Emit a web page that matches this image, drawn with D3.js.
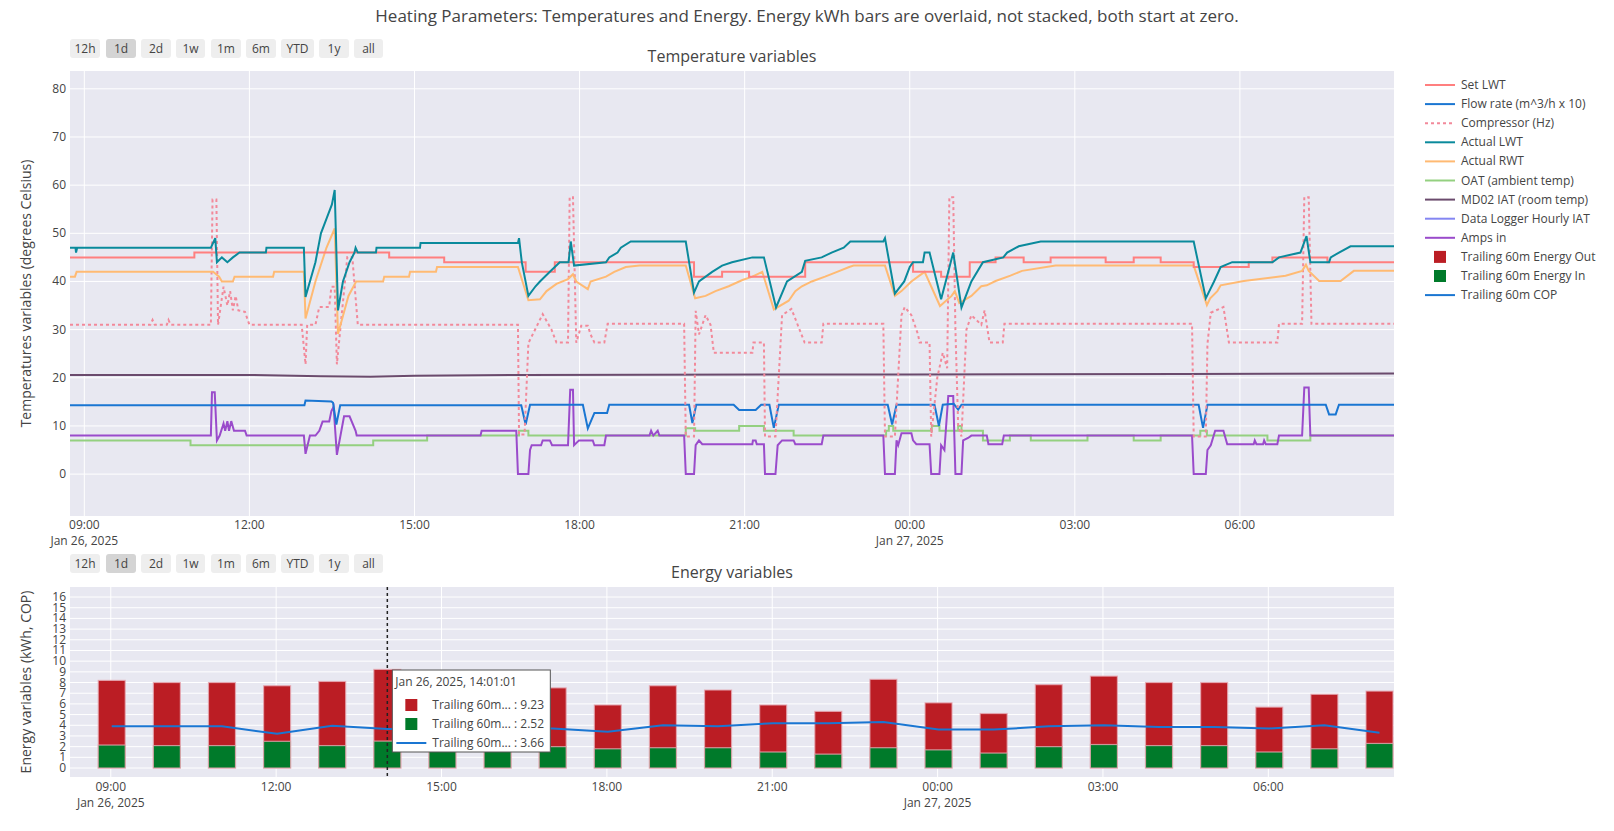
<!DOCTYPE html>
<html><head><meta charset="utf-8">
<script src="https://cdn.jsdelivr.net/npm/d3@7"></script>
<style>body{margin:0;background:#fff}text{font-family:"Open Sans",sans-serif;fill:#444}</style>
</head><body><svg width="1614" height="831"></svg>
<script>
// hours are counted from Jan 26, 2025 00:00
const setLWT = [[8.74,45],[11.0,46],[14.54,45],[15.54,44],[17.02,42],[17.55,44],[20.08,41],[20.59,42],[21.08,41],[22.1,44],[24.06,42],[24.57,41],[25.09,44],[25.56,45],[26.07,44],[26.56,45],[27.56,44],[28.07,45],[28.56,44],[29.16,43],[30.16,44],[30.59,45],[31.59,44],[32.8,44]];
const flowRate = [[8.74,14.3],[13.0,14.3],[13.02,15.3],[13.49,15.1],[13.52,14.8],[13.58,10.3],[13.65,14.3],[16.94,14.3],[17.02,10.3],[17.1,14.4],[18.06,14.4],[18.15,9.5],[18.27,12.7],[18.5,12.7],[18.54,14.4],[19.99,14.4],[20.05,10.6],[20.12,14.4],[20.8,14.4],[20.9,13.3],[21.2,13.3],[21.3,14.4],[21.45,14.4],[21.53,9.6],[21.62,14.4],[23.6,14.4],[23.68,10.3],[23.76,14.4],[24.45,14.4],[24.53,10],[24.6,14.4],[24.8,14.6],[24.88,13.4],[24.94,14.4],[29.25,14.4],[29.33,9.6],[29.41,14.4],[31.56,14.4],[31.62,12.4],[31.74,12.4],[31.8,14.4],[32.8,14.4]];
const compressor = [[8.74,31],[10.2,31],[10.24,32],[10.28,31],[10.5,31],[10.53,32],[10.57,31],[11.3,31],[11.33,57],[11.4,57],[11.43,31],[11.53,38.9],[11.6,35],[11.65,38],[11.7,34],[11.75,37],[11.8,34],[11.92,33.7],[12.0,31],[12.95,31],[13.02,22.8],[13.05,31],[13.2,31],[13.27,34.7],[13.45,34.7],[13.49,38.9],[13.55,38.9],[13.59,22.8],[13.78,45.1],[13.87,45.1],[13.97,31],[16.88,31],[16.9,8.2],[17.0,8.2],[17.07,27.2],[17.33,33.2],[17.49,30],[17.58,27.3],[17.79,27.3],[17.82,57.5],[17.88,57.5],[17.94,27.3],[18.03,30.8],[18.15,30.8],[18.2,29],[18.27,27.3],[18.45,27.3],[18.51,31.2],[19.9,31.2],[19.93,7.8],[20.08,7.8],[20.11,33.9],[20.17,29],[20.29,33],[20.38,31],[20.44,25.2],[21.14,25.2],[21.16,27.3],[21.35,27.3],[21.37,7.8],[21.56,7.8],[21.68,33],[21.85,34.3],[22.09,27.3],[22.4,27.3],[22.43,31.2],[23.52,31.2],[23.55,7.8],[23.73,7.8],[23.85,33],[23.91,34.7],[24.03,33],[24.15,29],[24.18,27.3],[24.36,27.3],[24.39,7.8],[24.5,20],[24.6,25.2],[24.68,22],[24.72,57.5],[24.79,57.5],[24.83,30],[24.88,10],[24.94,7.8],[25.03,30],[25.12,33],[25.3,31],[25.36,34],[25.45,27.3],[25.69,27.3],[25.72,31.2],[29.13,31.2],[29.16,7.8],[29.38,7.8],[29.41,27],[29.47,33.5],[29.7,34.7],[29.8,27.3],[30.68,27.3],[30.71,31.2],[31.13,31.2],[31.17,57.5],[31.25,57.5],[31.3,31.2],[32.8,31.2]];
const actualLWT = [[8.74,47],[8.84,47],[8.85,46],[8.87,47],[11.3,47],[11.38,49],[11.41,44],[11.5,45],[11.6,44],[11.7,45],[11.82,46],[12.3,46],[12.31,47],[12.99,47],[13.02,36.8],[13.1,40],[13.2,44],[13.3,50],[13.4,53],[13.5,56],[13.55,59],[13.61,34],[13.7,40],[13.82,44],[13.91,46],[13.93,47],[13.97,46],[14.3,46],[14.31,47],[15.1,47],[15.11,48],[16.88,48],[16.9,49],[16.95,44],[17.07,37],[17.2,39],[17.28,40],[17.46,42],[17.64,44],[17.8,44],[17.84,48.3],[17.9,43.3],[18.48,44],[18.54,45],[18.69,46],[18.75,47],[18.93,48.3],[19.93,48.3],[20.08,37.7],[20.17,40],[20.41,42],[20.59,43.3],[20.77,44],[21.14,45],[21.35,45],[21.57,34.6],[21.77,40],[22.04,42],[22.1,44.3],[22.4,45],[22.58,46],[22.8,47],[22.92,48.3],[23.52,48.3],[23.55,49],[23.73,37.5],[23.9,40],[24.0,43],[24.06,44],[24.24,44],[24.27,46],[24.36,46],[24.57,36.3],[24.7,42],[24.79,46],[24.94,34.6],[25.12,40],[25.33,44],[25.7,45],[25.77,46],[25.98,47.3],[26.38,48.3],[29.16,48.3],[29.38,36.5],[29.53,40],[29.65,43],[29.86,44],[30.59,44],[30.71,45],[31.1,46],[31.21,49.4],[31.28,44],[31.62,44],[31.65,45],[31.8,46],[32.01,47.3],[32.8,47.3]];
const actualRWT = [[8.74,41],[8.83,41],[8.86,42],[11.34,42],[11.45,41],[11.5,40],[11.7,40],[11.73,41],[12.43,41],[12.45,42],[12.99,42],[13.02,32.3],[13.2,40],[13.4,47],[13.55,51],[13.61,29.1],[13.8,37],[13.94,40],[14.43,40],[14.45,41],[14.9,41],[14.92,42],[15.39,42],[15.41,43],[16.88,43],[17.07,36.1],[17.28,36.3],[17.4,38],[17.58,39.5],[17.79,40.5],[17.88,41.5],[17.94,40],[18.15,38.4],[18.2,40],[18.48,41],[18.63,42],[18.84,43],[19.09,43.3],[19.93,43.3],[20.1,36.5],[20.29,37],[20.47,38],[20.71,39],[20.96,40.3],[21.14,41],[21.32,42],[21.53,34.2],[21.8,36],[21.92,38],[22.04,39],[22.22,40],[22.46,41],[22.68,42],[22.9,43],[22.98,43.3],[23.55,43.3],[23.73,37],[23.85,38],[24.03,40],[24.15,41],[24.27,42],[24.55,34.9],[24.76,37],[24.82,38],[24.9,35.5],[25.12,37],[25.3,39],[25.4,39.2],[25.56,40.1],[25.83,41.2],[26.04,42.2],[26.65,43.3],[29.16,43.3],[29.4,35.1],[29.46,36.5],[29.59,38],[29.65,39.2],[30.07,40.1],[30.83,41.2],[31.13,42.2],[31.2,43.5],[31.25,42.2],[31.44,40.1],[31.83,40.1],[32.07,42.2],[32.8,42.2]];
const oat = [[8.74,7],[10.93,6],[14.25,7],[15.23,8],[16.9,9],[17.07,8],[19.93,9.5],[20.1,9],[20.9,10],[21.35,9],[21.89,8],[23.57,9],[23.62,10],[23.7,9],[24.4,10],[24.54,9],[24.88,10],[24.94,9],[25.33,7],[25.82,8],[26.2,7],[27.23,8],[28.07,7],[28.56,8],[29.28,9],[29.4,8],[30.5,7],[31.28,8],[32.8,8]];
const iat = [[8.74,20.6],[12.0,20.6],[13.3,20.3],[14.2,20.2],[15.0,20.4],[17.0,20.6],[24.0,20.7],[29.0,20.8],[32.8,20.9]];
const amps = [[8.74,8],[11.3,8],[11.32,17],[11.37,17],[11.41,7],[11.46,8],[11.53,10.5],[11.56,9],[11.6,11],[11.63,9],[11.67,11],[11.72,9],[11.92,9],[11.95,8],[12.99,8],[13.02,4.2],[13.1,8],[13.2,8],[13.27,9],[13.33,10.9],[13.45,10.9],[13.49,13.1],[13.53,14],[13.59,4],[13.72,12],[13.82,12],[13.93,9],[13.95,8],[16.2,8],[16.22,9],[16.85,9],[16.88,0],[17.07,0],[17.1,5],[17.13,6],[17.3,6],[17.33,7],[17.46,7],[17.5,6],[17.79,6],[17.83,17.5],[17.88,17.5],[17.9,6],[17.99,7],[18.24,7],[18.27,6],[18.45,6],[18.48,8],[19.27,8],[19.3,9],[19.34,8],[19.42,9],[19.45,8],[19.9,8],[19.93,0],[20.08,0],[20.11,6],[20.17,7],[20.23,6.2],[21.14,6.2],[21.15,7],[21.2,7],[21.22,6.2],[21.35,6.2],[21.37,0],[21.56,0],[21.6,6],[21.68,7],[21.89,7],[21.92,6.2],[22.4,6.2],[22.43,8],[23.52,8],[23.55,0],[23.73,0],[23.76,7],[23.79,6],[23.85,8.5],[24.03,8.5],[24.06,7],[24.12,6.2],[24.36,6.2],[24.39,0],[24.54,0],[24.57,6],[24.63,5],[24.7,16.2],[24.79,16.2],[24.83,0],[24.94,0],[24.97,7],[25.06,7.5],[25.12,8],[25.4,8],[25.43,6.2],[25.68,6.2],[25.71,8],[29.13,8],[29.16,0],[29.38,0],[29.41,5],[29.47,6],[29.55,9],[29.7,9],[29.77,6.2],[30.25,6.2],[30.27,7],[30.3,6.2],[30.42,6.2],[30.44,7],[30.47,6.2],[30.68,6.2],[30.71,8],[31.13,8],[31.17,18],[31.25,18],[31.28,8],[32.8,8]];

const energyHours = [9,10,11,12,13,14,15,16,17,18,19,20,21,22,23,24,25,26,27,28,29,30,31,32];
const energyOut = [8.2,8.0,8.0,7.7,8.1,9.23,7.5,7.6,7.5,5.9,7.7,7.3,5.9,5.3,8.3,6.1,5.1,7.8,8.6,8.0,8.0,5.7,6.9,7.2];
const energyIn = [2.15,2.1,2.1,2.5,2.1,2.52,2.0,2.0,2.0,1.8,1.9,1.9,1.5,1.3,1.9,1.7,1.4,2.0,2.2,2.1,2.1,1.5,1.8,2.3];
const cop = [3.9,3.9,3.9,3.2,3.95,3.66,3.7,3.7,3.7,3.4,4.0,3.9,4.2,4.2,4.3,3.6,3.6,3.9,4.0,3.85,3.85,3.7,4.0,3.3];

const topTicks = [9,12,15,18,21,24,27,30];
const rangeButtons = ["12h","1d","2d","1w","1m","6m","YTD","1y","all"];

const base = new Date(2025,0,26).getTime();
const T = h => new Date(base + h*3600e3);
const svg = d3.select("svg");
const fmtTick = d => d3.timeFormat("%H:%M")(d);

const series = [
  {name:"Set LWT", data:setLWT, color:"#ff7f7f", curve:d3.curveStepAfter},
  {name:"Flow rate (m^3/h x 10)", data:flowRate, color:"#1a76d2"},
  {name:"Compressor (Hz)", data:compressor, color:"#f2899a", dash:"3,3"},
  {name:"Actual LWT", data:actualLWT, color:"#0a8a9c"},
  {name:"Actual RWT", data:actualRWT, color:"#ffba73"},
  {name:"OAT (ambient temp)", data:oat, color:"#94d080", curve:d3.curveStepAfter},
  {name:"MD02 IAT (room temp)", data:iat, color:"#6b4b6d"},
  {name:"Data Logger Hourly IAT", data:[], color:"#8486f2"},
  {name:"Amps in", data:amps, color:"#9a4bcb"}
];
const drawOrder = [6,5,8,1,2,4,0,3];

// title
svg.append("text").attr("x",807).attr("y",22).attr("text-anchor","middle").style("font-size","17px").text("Heating Parameters: Temperatures and Energy. Energy kWh bars are overlaid, not stacked, both start at zero.");

function buttons(y){
  const xs=[70,106,141,176,211,246,281,319,354], ws=[30,30,30,29,30,30,33,30,29];
  rangeButtons.forEach((b,i)=>{
    svg.append("rect").attr("x",xs[i]).attr("y",y).attr("width",ws[i]).attr("height",19).attr("rx",3).attr("fill",i===1?"#d4d4d4":"#eeeeee");
    svg.append("text").attr("x",xs[i]+ws[i]/2).attr("y",y+14).attr("text-anchor","middle").style("font-size","12px").text(b);
  });
}
function grid(g, x, y, yTicks, w, h){
  g.append("rect").attr("width",w).attr("height",h).attr("fill","#e8e8f1");
  yTicks.forEach(t=>g.append("line").attr("x1",0).attr("x2",w).attr("y1",y(t)).attr("y2",y(t)).attr("stroke","#fff").attr("stroke-width",1));
  topTicks.forEach(t=>g.append("line").attr("x1",x(T(t))).attr("x2",x(T(t))).attr("y1",0).attr("y2",h).attr("stroke","#fff").attr("stroke-width",1));
}
function xLabels(g, x, h, dy){
  topTicks.forEach(t=>{
    g.append("text").attr("x",x(T(t))).attr("y",h+dy).attr("text-anchor","middle").style("font-size","12px").text(fmtTick(T(t)));
  });
  g.append("text").attr("x",x(T(9))).attr("y",h+dy+16).attr("text-anchor","middle").style("font-size","12px").text("Jan 26, 2025");
  g.append("text").attr("x",x(T(24))).attr("y",h+dy+16).attr("text-anchor","middle").style("font-size","12px").text("Jan 27, 2025");
}

// ---- top plot
const P1 = {l:70, t:71, w:1324, h:445};
const x1 = d3.scaleTime().domain([T(8.74),T(32.8)]).range([0,P1.w]);
const y1 = d3.scaleLinear().domain([-8.7,83.7]).range([P1.h,0]);
buttons(39);
svg.append("text").attr("x",P1.l+P1.w/2).attr("y",62).attr("text-anchor","middle").style("font-size","16px").text("Temperature variables");
const g1 = svg.append("g").attr("transform",`translate(${P1.l},${P1.t})`);
const t1 = d3.range(0,81,10);
grid(g1,x1,y1,t1,P1.w,P1.h);
t1.forEach(t=>g1.append("text").attr("x",-4).attr("y",y1(t)+4).attr("text-anchor","end").style("font-size","12px").text(t));
xLabels(g1,x1,P1.h,13);
svg.append("text").attr("transform",`translate(31,${P1.t+P1.h/2}) rotate(-90)`).attr("text-anchor","middle").style("font-size","14px").text("Temperatures variables (degrees Celsius)");
svg.append("clipPath").attr("id","c1").append("rect").attr("width",P1.w).attr("height",P1.h);
const lines = g1.append("g").attr("clip-path","url(#c1)");
drawOrder.forEach(i=>{
  const s=series[i];
  const line=d3.line().x(d=>x1(T(d[0]))).y(d=>y1(d[1])).curve(s.curve||d3.curveLinear);
  lines.append("path").attr("d",line(s.data)).attr("fill","none").attr("stroke",s.color).attr("stroke-width",2).attr("stroke-dasharray",s.dash||null);
});

// legend
const legendItems = series.map(s=>({name:s.name,color:s.color,type:"line",dash:s.dash}))
  .concat([{name:"Trailing 60m Energy Out",color:"#bb1d24",type:"box"},{name:"Trailing 60m Energy In",color:"#007a2a",type:"box"},{name:"Trailing 60m COP",color:"#1a76d2",type:"line"}]);
legendItems.forEach((it,i)=>{
  const y=85+i*19.1;
  if(it.type==="line") svg.append("line").attr("x1",1425).attr("x2",1455).attr("y1",y).attr("y2",y).attr("stroke",it.color).attr("stroke-width",2).attr("stroke-dasharray",it.dash||null);
  else svg.append("rect").attr("x",1434).attr("y",y-6).attr("width",12).attr("height",12).attr("fill",it.color);
  svg.append("text").attr("x",1461).attr("y",y+4).style("font-size","12px").text(it.name);
});

// ---- bottom plot
const P2 = {l:70, t:587, w:1324, h:190};
const x2 = d3.scaleTime().domain([T(8.26),T(32.28)]).range([0,P2.w]);
const y2 = d3.scaleLinear().domain([-0.84,16.94]).range([P2.h,0]);
buttons(554);
svg.append("text").attr("x",P2.l+P2.w/2).attr("y",578).attr("text-anchor","middle").style("font-size","16px").text("Energy variables");
const g2 = svg.append("g").attr("transform",`translate(${P2.l},${P2.t})`);
const t2 = d3.range(0,17);
grid(g2,x2,y2,t2,P2.w,P2.h);
t2.forEach(t=>g2.append("text").attr("x",-4).attr("y",y2(t)+4).attr("text-anchor","end").style("font-size","12px").text(t));
xLabels(g2,x2,P2.h,14);
svg.append("text").attr("transform",`translate(31,${P2.t+P2.h/2}) rotate(-90)`).attr("text-anchor","middle").style("font-size","14px").text("Energy variables (kWh, COP)");
svg.append("clipPath").attr("id","c2").append("rect").attr("width",P2.w).attr("height",P2.h);
const bars = g2.append("g").attr("clip-path","url(#c2)");
const bw = x2(T(9.49))-x2(T(9));
[[energyOut,"#bb1d24"],[energyIn,"#007a2a"]].forEach(([vals,c])=>{
  bars.selectAll(null).data(energyHours).enter().append("rect")
    .attr("x",(h)=>x2(T(h+0.017))-bw/2).attr("width",bw)
    .attr("y",(h,i)=>y2(vals[i])).attr("height",(h,i)=>y2(0)-y2(vals[i]))
    .attr("fill",c).attr("stroke","rgba(230,170,180,0.8)").attr("stroke-width",1.2);
});
bars.append("path").attr("d",d3.line().x((h)=>x2(T(h+0.017))).y((h,i)=>y2(cop[i]))(energyHours))
  .attr("fill","none").attr("stroke","#1a76d2").attr("stroke-width",2);

// hover spike + tooltip at 14:01:01
const hx = x2(T(14+61/3600));
g2.append("line").attr("x1",hx).attr("x2",hx).attr("y1",0).attr("y2",P2.h).attr("stroke","#222").attr("stroke-width",1.5).attr("stroke-dasharray","3,3");
const tip = svg.append("g").attr("transform",`translate(${P2.l+hx+5},670)`);
tip.append("rect").attr("width",158).attr("height",82).attr("fill","#fff").attr("stroke","#555").attr("stroke-width",1);
tip.append("text").attr("x",3).attr("y",16).style("font-size","12px").text("Jan 26, 2025, 14:01:01");
[["box","#bb1d24",energyOut[5].toFixed(2)],["box","#007a2a",energyIn[5].toFixed(2)],["line","#1a76d2",cop[5].toFixed(2)]].forEach(([t,c,v],i)=>{
  const yy=35+i*19;
  if(t==="box") tip.append("rect").attr("x",13).attr("y",yy-6).attr("width",12).attr("height",12).attr("fill",c);
  else tip.append("line").attr("x1",4).attr("x2",34).attr("y1",yy).attr("y2",yy).attr("stroke",c).attr("stroke-width",2);
  tip.append("text").attr("x",40).attr("y",yy+4).style("font-size","12px").text(`Trailing 60m... : ${v}`);
});
</script></body></html>
